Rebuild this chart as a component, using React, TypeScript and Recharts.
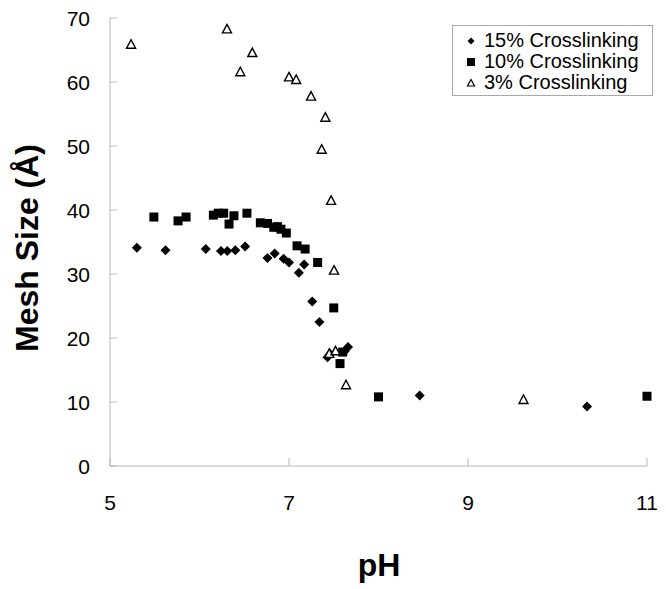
import React from 'react';
import { ScatterChart, Scatter, XAxis, YAxis, Legend, Label } from 'recharts';

const xTicks = [5, 7, 9, 11];
const yTicks = [0, 10, 20, 30, 40, 50, 60, 70];

const s15Name = '15% Crosslinking';
const s15X = [5.30, 5.62, 6.07, 6.24, 6.31, 6.40, 6.51, 6.76, 6.84, 6.94, 7.00, 7.11, 7.17, 7.26, 7.34, 7.43, 7.46, 7.62, 7.66, 8.46, 10.33];
const s15Y = [34.1, 33.7, 33.9, 33.6, 33.6, 33.7, 34.3, 32.5, 33.2, 32.4, 31.8, 30.2, 31.5, 25.7, 22.5, 17.0, 17.5, 17.9, 18.6, 11.0, 9.3];

const s10Name = '10% Crosslinking';
const s10X = [5.49, 5.76, 5.85, 6.155, 6.21, 6.27, 6.33, 6.385, 6.53, 6.68, 6.76, 6.83, 6.87, 6.91, 6.97, 7.09, 7.18, 7.32, 7.50, 7.57, 7.60, 8.00, 11.00];
const s10Y = [38.9, 38.3, 38.9, 39.2, 39.5, 39.5, 37.8, 39.1, 39.5, 38.0, 37.9, 37.3, 37.4, 37.0, 36.4, 34.4, 33.9, 31.8, 24.7, 16.0, 17.8, 10.8, 10.9];

const s3Name = '3% Crosslinking';
const s3X = [5.235, 6.307, 6.456, 6.59, 7.0, 7.08, 7.246, 7.406, 7.365, 7.47, 7.503, 7.45, 7.52, 7.637, 9.62];
const s3Y = [65.9, 68.3, 61.6, 64.6, 60.8, 60.4, 57.8, 54.5, 49.5, 41.5, 30.6, 17.6, 18.0, 12.7, 10.4];

const zip = (xs: number[], ys: number[]) => xs.map((x, i) => ({ x, y: ys[i] }));
const data15 = zip(s15X, s15Y);
const data10 = zip(s10X, s10Y);
const data3 = zip(s3X, s3Y);

const FONT = '"Liberation Sans", Arial, sans-serif';
const AXIS = '#b8b8b8';

const Diamond = (p: any) => {
  const { cx, cy } = p;
  const r = 5;
  return <polygon points={`${cx},${cy - r} ${cx + r},${cy} ${cx},${cy + r} ${cx - r},${cy}`} fill="#000" />;
};
const Square = (p: any) => {
  const { cx, cy } = p;
  return <rect x={cx - 4.5} y={cy - 4.5} width={9} height={9} fill="#000" />;
};
const Triangle = (p: any) => {
  const { cx, cy } = p;
  return (
    <polygon
      points={`${cx},${cy - 4.5} ${cx + 4.5},${cy + 4} ${cx - 4.5},${cy + 4}`}
      fill="#fff"
      stroke="#000"
      strokeWidth={1.4}
    />
  );
};

const XTick = (p: any) => {
  const { x, y, payload } = p;
  return (
    <g>
      <line x1={x} x2={x} y1={y} y2={y - 8} stroke={AXIS} />
      <text x={x} y={y + 36} textAnchor="middle" dominantBaseline="central" fontSize={21} fontFamily={FONT} fill="#000">
        {payload.value}
      </text>
    </g>
  );
};

const YTick = (p: any) => {
  const { x, y, payload } = p;
  return (
    <g>
      <line x1={x} x2={x + 7} y1={y} y2={y} stroke={AXIS} />
      <text x={x - 20} y={y} textAnchor="end" dominantBaseline="central" fontSize={21} fontFamily={FONT} fill="#000">
        {payload.value}
      </text>
    </g>
  );
};

const legendItems = [
  { name: s15Name, kind: 'diamond' },
  { name: s10Name, kind: 'square' },
  { name: s3Name, kind: 'triangle' },
];

const LegendMarker = ({ kind }: { kind: string }) => (
  <svg width={12} height={12} style={{ marginRight: 7 }}>
    {kind === 'diamond' && <polygon points="6,2.5 9.5,6 6,9.5 2.5,6" fill="#000" />}
    {kind === 'square' && <rect x={2} y={2} width={8} height={8} fill="#000" />}
    {kind === 'triangle' && <polygon points="6,2.5 9.5,9 2.5,9" fill="#fff" stroke="#000" strokeWidth={1.2} />}
  </svg>
);

const LegendContent = () => (
  <div
    style={{
      width: 201,
      height: 71,
      boxSizing: 'border-box',
      border: '1px solid #a8a8a8',
      background: '#fff',
      padding: '4px 0 0 12px',
      fontFamily: FONT,
      fontSize: 20,
      lineHeight: '21px',
      color: '#000',
    }}
  >
    {legendItems.map((it) => (
      <div key={it.name} style={{ display: 'flex', alignItems: 'center', whiteSpace: 'nowrap' }}>
        <LegendMarker kind={it.kind} />
        <span>{it.name}</span>
      </div>
    ))}
  </div>
);

export default function App() {
  return (
    <div style={{ position: 'absolute', left: 0, top: 0, width: 666, height: 589, background: '#fff' }}>
      <ScatterChart width={666} height={589} margin={{ top: 18, right: 19, bottom: 63, left: 0 }}>
        <XAxis
          type="number"
          dataKey="x"
          domain={[5, 11]}
          ticks={xTicks}
          interval={0}
          height={60}
          tickSize={0}
          tickMargin={0}
          tick={<XTick />}
          axisLine={{ stroke: AXIS }}
          tickLine={false}
        >
          <Label
            content={() => (
              <text x={379} y={565} textAnchor="middle" dominantBaseline="central" fontSize={32} fontWeight="bold" fontFamily={FONT} fill="#000">
                pH
              </text>
            )}
          />
        </XAxis>
        <YAxis
          type="number"
          dataKey="y"
          domain={[0, 70]}
          ticks={yTicks}
          interval={0}
          width={110}
          tickSize={0}
          tickMargin={0}
          tick={<YTick />}
          axisLine={{ stroke: AXIS }}
          tickLine={false}
        >
          <Label
            content={() => (
              <text
                x={27}
                y={248}
                transform="rotate(-90 27 248)"
                textAnchor="middle"
                dominantBaseline="central"
                fontSize={32}
                fontWeight="bold"
                fontFamily={FONT}
                fill="#000"
              >
                Mesh Size (Å)
              </text>
            )}
          />
        </YAxis>
        <Legend
          layout="vertical"
          align="center"
          verticalAlign="middle"
          wrapperStyle={{ left: 452, top: 25, width: 201, height: 71 }}
          content={<LegendContent />}
        />
        <Scatter name={s15Name} data={data15} shape={<Diamond />} isAnimationActive={false} />
        <Scatter name={s10Name} data={data10} shape={<Square />} isAnimationActive={false} />
        <Scatter name={s3Name} data={data3} shape={<Triangle />} isAnimationActive={false} />
      </ScatterChart>
    </div>
  );
}
